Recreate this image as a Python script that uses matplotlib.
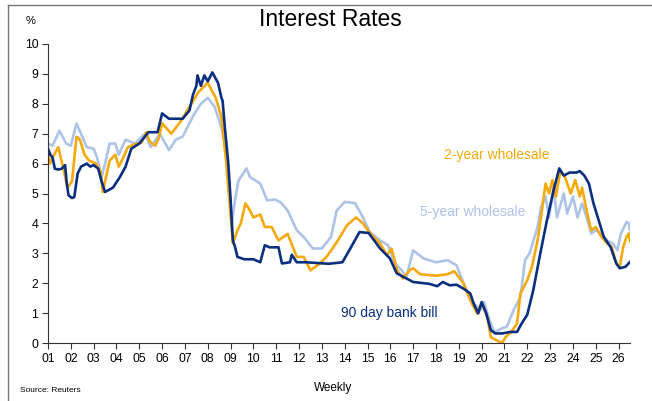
import numpy as np
import matplotlib.pyplot as plt
from matplotlib.lines import Line2D

plt.rcParams['font.family'] = ['Liberation Sans', 'DejaVu Sans']

# 90 day bank bill (decimal year, %)
bill_x = [2001.0, 2001.1, 2001.2, 2001.3, 2001.45, 2001.6, 2001.75, 2001.82, 2001.9, 2002.05,
          2002.15, 2002.3, 2002.45, 2002.7, 2002.85, 2003.0, 2003.2, 2003.35, 2003.5, 2003.85,
          2004.15, 2004.4, 2004.65, 2005.0, 2005.4, 2005.8, 2006.0, 2006.3, 2006.9, 2007.2,
          2007.35, 2007.5, 2007.55, 2007.7, 2007.85, 2008.0, 2008.2, 2008.45, 2008.6, 2008.65,
          2008.75, 2008.9, 2009.0, 2009.1, 2009.2, 2009.3, 2009.6, 2010.0, 2010.3, 2010.5,
          2010.7, 2011.1, 2011.25, 2011.6, 2011.68, 2011.9, 2012.3, 2013.3, 2013.9, 2014.2,
          2014.65, 2015.05, 2015.55, 2015.98, 2016.28, 2016.6, 2017.0, 2017.7, 2018.05, 2018.3,
          2018.6, 2018.9, 2019.2, 2019.5, 2019.65, 2019.85, 2020.0, 2020.2, 2020.4, 2020.6,
          2020.9, 2021.25, 2021.55, 2021.75, 2022.0, 2022.26, 2022.57, 2022.86, 2023.15, 2023.4,
          2023.6, 2023.85, 2024.15, 2024.3, 2024.5, 2024.7, 2024.9, 2025.15, 2025.35, 2025.65,
          2025.9, 2026.05, 2026.3, 2026.5]
bill_y = [6.5, 6.3, 6.2, 5.83, 5.8, 5.83, 5.95, 5.35, 4.94, 4.85,
          4.88, 5.67, 5.9, 6.0, 5.9, 5.95, 5.83, 5.4, 5.05, 5.2,
          5.55, 5.9, 6.5, 6.67, 7.05, 7.05, 7.68, 7.5, 7.5, 7.78,
          8.3, 8.6, 8.95, 8.6, 8.95, 8.75, 9.05, 8.7, 8.2, 8.1,
          7.2, 6.0, 4.8, 3.43, 3.2, 2.88, 2.8, 2.8, 2.7, 3.27,
          3.2, 3.2, 2.66, 2.7, 2.95, 2.7, 2.7, 2.65, 2.7, 3.1,
          3.71, 3.68, 3.16, 2.83, 2.33, 2.2, 2.04, 1.98, 1.9, 2.04,
          1.93, 1.95, 1.82, 1.66, 1.32, 0.99, 1.37, 0.99, 0.43, 0.32,
          0.32, 0.37, 0.37, 0.65, 0.95, 1.76, 3.0, 4.1, 5.1, 5.84,
          5.6, 5.7, 5.7, 5.75, 5.6, 5.33, 4.67, 4.05, 3.55, 3.21,
          2.66, 2.5, 2.55, 2.71]

# 2-year wholesale
two_x = [2001.0, 2001.08, 2001.2, 2001.45, 2001.7, 2001.85, 2002.05, 2002.25, 2002.4, 2002.6,
         2002.8, 2003.1, 2003.3, 2003.4, 2003.7, 2003.95, 2004.1, 2004.3, 2004.5, 2004.8,
         2005.1, 2005.3, 2005.45, 2005.7, 2005.85, 2006.0, 2006.4, 2006.8, 2007.2, 2007.6,
         2008.0, 2008.35, 2008.6, 2008.8, 2008.97, 2009.1, 2009.3, 2009.45, 2009.65, 2009.8,
         2010.0, 2010.3, 2010.5, 2010.8, 2011.1, 2011.5, 2011.9, 2012.2, 2012.5, 2012.9,
         2013.2, 2013.5, 2013.7, 2014.1, 2014.5, 2014.8, 2015.1, 2015.55, 2015.85, 2016.05,
         2016.3, 2016.55, 2016.85, 2017.0, 2017.3, 2018.0, 2018.5, 2018.8, 2019.0, 2019.2,
         2019.5, 2019.8, 2020.0, 2020.25, 2020.4, 2020.65, 2020.9, 2021.05, 2021.3, 2021.55,
         2021.7, 2022.0, 2022.2, 2022.45, 2022.6, 2022.8, 2022.95, 2023.1, 2023.25, 2023.45,
         2023.65, 2023.9, 2024.1, 2024.3, 2024.4, 2024.6, 2024.8, 2025.0, 2025.25, 2025.5,
         2025.7, 2025.9, 2026.05, 2026.2, 2026.35, 2026.45, 2026.5]
two_y = [6.3, 6.0, 6.2, 6.55, 5.75, 5.2, 5.4, 6.9, 6.8, 6.3,
         6.1, 6.0, 5.75, 5.05, 6.1, 6.3, 5.9, 6.2, 6.55, 6.65,
         6.7, 7.05, 6.75, 6.6, 6.85, 7.35, 7.0, 7.4, 7.9, 8.4,
         8.7, 8.2, 7.55, 6.1, 4.55, 3.33, 3.77, 4.0, 4.67, 4.5,
         4.2, 4.3, 3.88, 3.88, 3.43, 3.65, 2.88, 2.88, 2.43, 2.65,
         2.88, 3.2, 3.43, 3.94, 4.2, 4.0, 3.68, 3.33, 2.93, 3.16,
         2.43, 2.16, 2.43, 2.5, 2.3, 2.25, 2.3, 2.4, 2.2, 2.0,
         1.43, 0.99, 1.32, 0.87, 0.2, 0.09, 0.0, 0.2, 0.37, 0.65,
         1.66, 2.1, 2.54, 3.43, 4.2, 5.33, 5.0, 5.45, 4.9, 5.75,
         5.55, 5.0, 5.45, 4.9, 5.2, 4.43, 3.77, 3.88, 3.55, 3.33,
         3.21, 2.66, 2.55, 3.21, 3.55, 3.66, 3.4]

# 5-year wholesale
five_x = [2001.0, 2001.2, 2001.5, 2001.8, 2002.0, 2002.25, 2002.5, 2002.7, 2003.0, 2003.15,
          2003.35, 2003.5, 2003.7, 2003.95, 2004.1, 2004.4, 2004.8, 2005.25, 2005.5, 2005.9,
          2006.3, 2006.6, 2006.9, 2007.4, 2007.7, 2008.0, 2008.3, 2008.6, 2008.8, 2008.95,
          2009.05, 2009.2, 2009.35, 2009.7, 2009.85, 2010.3, 2010.6, 2010.95, 2011.2, 2011.5,
          2011.9, 2012.2, 2012.6, 2013.0, 2013.4, 2013.65, 2014.0, 2014.45, 2014.8, 2015.1,
          2015.55, 2015.9, 2016.2, 2016.5, 2016.7, 2017.0, 2017.45, 2018.0, 2018.5, 2018.9,
          2019.1, 2019.35, 2019.65, 2019.95, 2020.1, 2020.3, 2020.55, 2020.75, 2020.9, 2021.1,
          2021.4, 2021.7, 2021.9, 2022.1, 2022.45, 2022.6, 2022.8, 2022.95, 2023.15, 2023.3,
          2023.6, 2023.75, 2024.0, 2024.2, 2024.4, 2024.6, 2024.8, 2025.0, 2025.25, 2025.5,
          2025.75, 2025.95, 2026.1, 2026.35, 2026.45, 2026.5]
five_y = [6.67, 6.6, 7.1, 6.67, 6.6, 7.34, 6.9, 6.55, 6.5, 6.2,
          5.55, 6.0, 6.67, 6.67, 6.3, 6.8, 6.67, 7.0, 6.55, 7.0,
          6.45, 6.8, 6.9, 7.65, 8.0, 8.2, 7.9, 7.2, 6.4, 5.0,
          4.0, 4.8, 5.44, 5.84, 5.55, 5.33, 4.77, 4.8, 4.7, 4.43,
          3.77, 3.55, 3.16, 3.16, 3.55, 4.43, 4.72, 4.68, 4.2, 3.71,
          3.43, 3.27, 2.66, 2.43, 2.2, 3.1, 2.83, 2.7, 2.77, 2.6,
          2.2, 1.76, 1.32, 1.1, 1.37, 0.87, 0.37, 0.43, 0.5, 0.54,
          1.1, 1.54, 2.77, 3.0, 3.88, 4.55, 4.9, 4.2, 5.2, 4.2,
          5.0, 4.33, 4.9, 4.2, 4.67, 4.2, 3.66, 3.77, 3.66, 3.43,
          3.33, 3.1, 3.66, 4.05, 4.0, 3.77]

year_ticks = list(range(2001, 2027))
year_labels = ['%02d' % (y % 100) for y in year_ticks]

navy = '#0b2f7f'
orange = '#f4a90d'
light = '#aec3e8'

fig = plt.figure(figsize=(6.52, 4.01), dpi=100)
ax = fig.add_axes([48 / 652, 1 - 343 / 401, (630 - 48) / 652, (343 - 44) / 401])

ax.plot(five_x, five_y, color=light, lw=1.9)
ax.plot(two_x, two_y, color=orange, lw=1.9)
ax.plot(bill_x, bill_y, color=navy, lw=1.9)

ax.set_xlim(2001, 2026.5)
ax.set_ylim(0, 10)
ax.set_xticks(year_ticks)
ax.set_xticklabels(year_labels)
ax.set_yticks(range(0, 11))
ax.tick_params(axis='both', labelsize=8.8, length=4, width=0.8, color='#333333', direction='out', pad=3)
for s in ['top', 'right']:
    ax.spines[s].set_visible(False)
for s in ['left', 'bottom']:
    ax.spines[s].set_color('#333333')
    ax.spines[s].set_linewidth(0.8)

ax.text(2020.65, 6.28, '2-year wholesale', color=orange, fontsize=10, ha='center', va='center')
ax.text(2019.6, 4.37, '5-year wholesale', color=light, fontsize=10, ha='center', va='center')
ax.text(2015.95, 0.99, '90 day bank bill', color=navy, fontsize=10, ha='center', va='center')

fig.text(330 / 652, 1 - 20 / 401, 'Interest Rates', fontsize=16.5, ha='center', va='center')
fig.text(31 / 652, 1 - 21 / 401, '%', fontsize=8, ha='center', va='center')
fig.text(20 / 652, 1 - 391 / 401, 'Source: Reuters', fontsize=6, ha='left', va='center')
fig.text(333 / 652, 1 - 388 / 401, 'Weekly', fontsize=8.5, ha='center', va='center')

# frame lines of the figure (left and top)
fig.add_artist(Line2D([8 / 652, 8 / 652], [0, 1 - 5 / 401], transform=fig.transFigure, color='#777777', lw=1))
fig.add_artist(Line2D([8 / 652, 1], [1 - 5 / 401, 1 - 5 / 401], transform=fig.transFigure, color='#777777', lw=1))

fig.savefig('out.png', dpi=100)
